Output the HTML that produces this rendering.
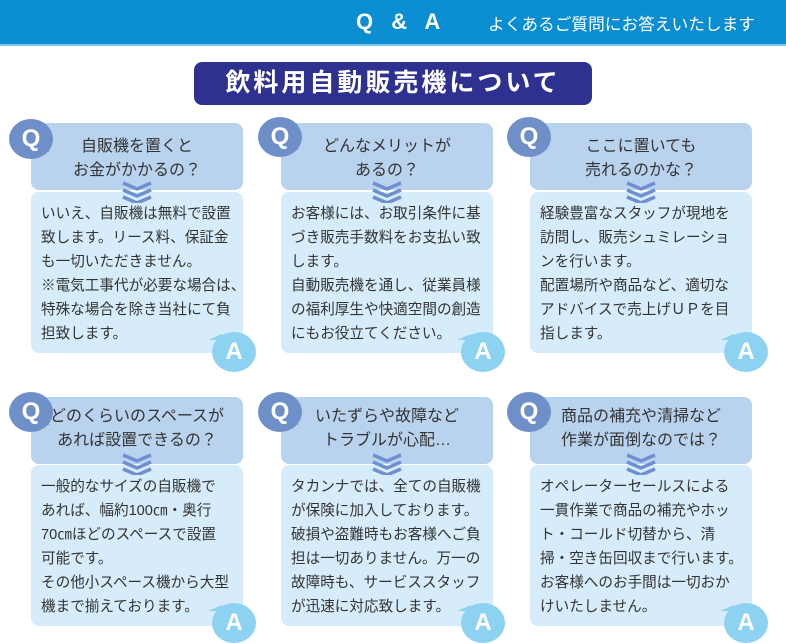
<!DOCTYPE html>
<html><head><meta charset="utf-8"><style>
*{margin:0;padding:0;box-sizing:border-box}
body{width:786px;height:641px;background:#fff;position:relative;overflow:hidden;font-family:"Liberation Sans","Noto Sans CJK JP",sans-serif;color:#333}
.hdr{position:absolute;left:0;top:0;width:786px;height:46px;background:#0b8dd2;border-bottom:2px solid #7cc4ea}
.hdr .qa{position:absolute;left:356px;top:9px;color:#fff;font-size:22px;font-weight:bold;letter-spacing:6px}
.hdr .sub{position:absolute;left:488px;top:11px;color:#fff;font-size:16.7px}
.title{position:absolute;left:194px;top:62px;width:398px;height:43px;background:#2e3190;border-radius:8px;color:#fff;font-size:25px;font-weight:bold;text-align:center;line-height:43px;letter-spacing:3px}
.qb{position:absolute;height:67px;background:#b9d3ef;border-radius:8px;text-align:center;font-size:16px;line-height:24px;padding-top:12px}
.ab{position:absolute;height:161px;background:#d6ecfa;border-radius:8px;font-size:14.6px;line-height:24px;padding:10px 0 0 10px;white-space:nowrap}
.qc,.ac{position:absolute;width:44px;height:40px;border-radius:50%;color:#fff;font-weight:bold;font-size:24px;text-align:center;line-height:40px}
.qc{background:#6f8fc9}
.ac{background:#8dd2f1}
.qc:after{content:"";position:absolute;left:28px;top:30px;border-left:12px solid #6f8fc9;border-bottom:8px solid transparent;transform:rotate(20deg)}
.ac:after{content:"";position:absolute;left:-4px;top:2px;border-right:14px solid #8dd2f1;border-top:6px solid transparent}
.chev{position:absolute;width:30px;height:22px}
</style></head><body>
<div class="hdr"><span class="qa">Q &amp; A</span><span class="sub">よくあるご質問にお答えいたします</span></div>
<div class="title">飲料用自動販売機について</div>

<div class="qb" style="left:31px;top:123px;width:212px">自販機を置くと<br>お金がかかるの？</div>
<div class="ab" style="left:31px;top:192px;width:212px">いいえ、自販機は無料で設置<br>致します。リース料、保証金<br>も一切いただきません。<br>※電気工事代が必要な場合は、<br>特殊な場合を除き当社にて負<br>担致します。</div>
<div class="qb" style="left:281px;top:123px;width:212px">どんなメリットが<br>あるの？</div>
<div class="ab" style="left:281px;top:192px;width:212px">お客様には、お取引条件に基<br>づき販売手数料をお支払い致<br>します。<br>自動販売機を通し、従業員様<br>の福利厚生や快適空間の創造<br>にもお役立てください。</div>
<div class="qb" style="left:530px;top:123px;width:222px">ここに置いても<br>売れるのかな？</div>
<div class="ab" style="left:530px;top:192px;width:222px">経験豊富なスタッフが現地を<br>訪問し、販売シュミレーショ<br>ンを行います。<br>配置場所や商品など、適切な<br>アドバイスで売上げＵＰを目<br>指します。</div>

<div class="qb" style="left:31px;top:397px;width:212px;padding-top:8px">どのくらいのスペースが<br>あれば設置できるの？</div>
<div class="ab" style="left:31px;top:465px;width:212px">一般的なサイズの自販機で<br>あれば、幅約100㎝・奥行<br>70㎝ほどのスペースで設置<br>可能です。<br>その他小スペース機から大型<br>機まで揃えております。</div>
<div class="qb" style="left:281px;top:397px;width:212px;padding-top:8px">いたずらや故障など<br>トラブルが心配…</div>
<div class="ab" style="left:281px;top:465px;width:212px">タカンナでは、全ての自販機<br>が保険に加入しております。<br>破損や盗難時もお客様へご負<br>担は一切ありません。万一の<br>故障時も、サービススタッフ<br>が迅速に対応致します。</div>
<div class="qb" style="left:530px;top:397px;width:222px;padding-top:8px">商品の補充や清掃など<br>作業が面倒なのでは？</div>
<div class="ab" style="left:530px;top:465px;width:222px">オペレーターセールスによる<br>一貫作業で商品の補充やホッ<br>ト・コールド切替から、清<br>掃・空き缶回収まで行います。<br>お客様へのお手間は一切おか<br>けいたしません。</div>

<svg class="chev" style="left:122px;top:181px" viewBox="0 0 30 22"><g fill="none" stroke="#6f8fd0" stroke-width="3.5"><polyline points="1,2 15,8 29,2"/><polyline points="1,9 15,15 29,9"/><polyline points="1,16 15,22 29,16"/></g></svg>
<svg class="chev" style="left:372px;top:181px" viewBox="0 0 30 22"><g fill="none" stroke="#6f8fd0" stroke-width="3.5"><polyline points="1,2 15,8 29,2"/><polyline points="1,9 15,15 29,9"/><polyline points="1,16 15,22 29,16"/></g></svg>
<svg class="chev" style="left:626px;top:181px" viewBox="0 0 30 22"><g fill="none" stroke="#6f8fd0" stroke-width="3.5"><polyline points="1,2 15,8 29,2"/><polyline points="1,9 15,15 29,9"/><polyline points="1,16 15,22 29,16"/></g></svg>
<svg class="chev" style="left:122px;top:453px" viewBox="0 0 30 22"><g fill="none" stroke="#6f8fd0" stroke-width="3.5"><polyline points="1,2 15,8 29,2"/><polyline points="1,9 15,15 29,9"/><polyline points="1,16 15,22 29,16"/></g></svg>
<svg class="chev" style="left:372px;top:453px" viewBox="0 0 30 22"><g fill="none" stroke="#6f8fd0" stroke-width="3.5"><polyline points="1,2 15,8 29,2"/><polyline points="1,9 15,15 29,9"/><polyline points="1,16 15,22 29,16"/></g></svg>
<svg class="chev" style="left:626px;top:453px" viewBox="0 0 30 22"><g fill="none" stroke="#6f8fd0" stroke-width="3.5"><polyline points="1,2 15,8 29,2"/><polyline points="1,9 15,15 29,9"/><polyline points="1,16 15,22 29,16"/></g></svg>

<div class="qc" style="left:9px;top:119px">Q</div>
<div class="qc" style="left:258px;top:117px">Q</div>
<div class="qc" style="left:507px;top:117px">Q</div>
<div class="qc" style="left:9px;top:392px">Q</div>
<div class="qc" style="left:258px;top:392px">Q</div>
<div class="qc" style="left:507px;top:392px">Q</div>
<div class="ac" style="left:212px;top:332px">A</div>
<div class="ac" style="left:461px;top:332px">A</div>
<div class="ac" style="left:724px;top:332px">A</div>
<div class="ac" style="left:212px;top:603px">A</div>
<div class="ac" style="left:461px;top:603px">A</div>
<div class="ac" style="left:724px;top:603px">A</div>
</body></html>
